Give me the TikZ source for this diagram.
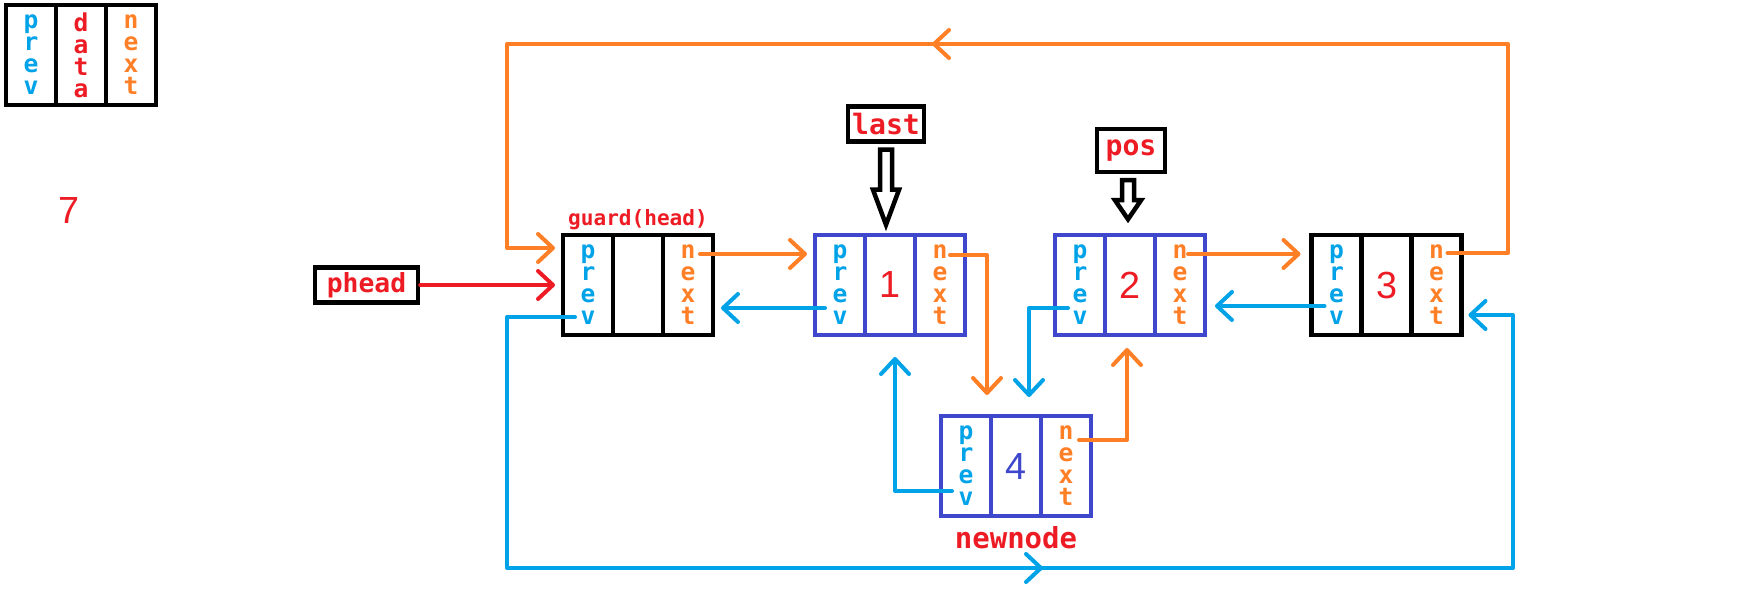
\documentclass[tikz,border=0pt]{standalone}
\usepackage{fontspec}
\usepackage{tikz}
\usetikzlibrary{arrows.meta, calc, chains, positioning}

\newfontfamily\cellfont{DejaVu Sans Mono}
\newfontfamily\digitfont{Liberation Sans}

\definecolor{pblue}{HTML}{00A2E8}
\definecolor{norange}{HTML}{FF7F27}
\definecolor{dred}{HTML}{ED1C24}
\definecolor{nblue}{HTML}{3F48CC}

\begin{document}
\begin{tikzpicture}[x=0.02cm, y=-0.02cm, node distance=0pt,
	start chain=key going right, start chain=g going right,
	start chain=c1 going right, start chain=c2 going right,
	start chain=c3 going right, start chain=c4 going right,
	cell/.style={draw, line width=0.09cm, minimum width=1cm, minimum height=2cm, inner sep=0pt, outer sep=0pt},
	blue cell/.style={cell, draw=nblue},
	prevcol/.style={text=pblue, align=center, font=\cellfont\bfseries\fontsize{14}{12.5}\selectfont},
	nextcol/.style={text=norange, align=center, font=\cellfont\bfseries\fontsize{14}{12.5}\selectfont},
	datacol/.style={text=dred, font=\digitfont\fontsize{21.5}{24}\selectfont},
	ptr/.style={draw, line width=0.09cm, text=dred, inner sep=0pt, font=\cellfont\bfseries\fontsize{15}{15}\selectfont},
	hollow/.style={draw, line width=0.09cm, fill=white, line join=miter},
	con/.style={line width=0.08cm, line cap=round, line join=round, -{Straight Barb[length=0.3cm, width=0.56cm, round]}},
	oarr/.style={con, draw=norange},
	barr/.style={con, draw=pblue},
	rarr/.style={con, draw=dred}]
	\useasboundingbox (0,0) rectangle (1744,605);

	% key
	\node[cell, prevcol, on chain=key] (lp) at (31,55) {p\\r\\e\\v};
	\node[cell, prevcol, text=dred, on chain=key] (ld) {d\\a\\t\\a};
	\node[cell, nextcol, on chain=key] (ln) {n\\e\\x\\t};
	\node[datacol] (seven) at (69,211) {7};

	% guard
	\node[cell, prevcol, on chain=g] (gp) at (588,285) {p\\r\\e\\v};
	\node[cell, on chain=g] (gd) {};
	\node[cell, nextcol, on chain=g] (gn) {n\\e\\x\\t};
	\node[above=0.1cm of gd, inner sep=0pt, text=dred, font=\cellfont\bfseries\fontsize{12}{12}\selectfont] (glabel) {guard(head)};

	\node[blue cell, prevcol, on chain=c1] (p1) at (840,285) {p\\r\\e\\v};
	\node[blue cell, datacol, on chain=c1] (d1) {1};
	\node[blue cell, nextcol, on chain=c1] (n1) {n\\e\\x\\t};

	\node[blue cell, prevcol, on chain=c2] (p2) at (1080,285) {p\\r\\e\\v};
	\node[blue cell, datacol, on chain=c2] (d2) {2};
	\node[blue cell, nextcol, on chain=c2] (n2) {n\\e\\x\\t};

	\node[cell, prevcol, on chain=c3] (p3) at (1336.5,285) {p\\r\\e\\v};
	\node[cell, datacol, on chain=c3] (d3) {3};
	\node[cell, nextcol, on chain=c3] (n3) {n\\e\\x\\t};

	\node[blue cell, prevcol, on chain=c4] (p4) at (966,466) {p\\r\\e\\v};
	\node[blue cell, datacol, text=nblue, on chain=c4] (d4) {4};
	\node[blue cell, nextcol, on chain=c4] (n4) {n\\e\\x\\t};
	\node[below=0.2cm of d4, inner sep=0pt, text=dred, font=\cellfont\bfseries\fontsize{16.5}{16.5}\selectfont] (newlabel) {newnode};

	% pointers
	\node[ptr, minimum width=2.06cm, minimum height=0.7cm] (phead) at (366.5,285) {phead};
	\node[ptr, minimum width=1.52cm, minimum height=0.7cm, font=\cellfont\bfseries\fontsize{16}{16}\selectfont] (last) at (886,124) {last};
	\node[ptr, minimum width=1.36cm, minimum height=0.86cm, font=\cellfont\bfseries\fontsize{16}{16}\selectfont] (pos) at (1131,150.5) {pos};
	\draw[hollow] (last.south) ++(-6,6) -- ++(0,40) -- ++(-7,0) -- ++(13,35) -- ++(13,-35) -- ++(-7,0) -- ++(0,-40) -- cycle;
	\draw[hollow] (pos.south) ++(-9,6) -- ++(0,20) -- ++(-7,0) -- ++(13,19) -- ++(13,-19) -- ++(-7,0) -- ++(0,-20) -- cycle;

	\coordinate (topR) at (1508,44);
	\coordinate (topM) at (932,44);
	\coordinate (topL) at (507,44);
	\coordinate (botL) at (507,568);
	\coordinate (botM) at (1043,568);
	\coordinate (botR) at (1513,568);

	\draw[rarr] (phead.east) -- ($(gp.west)+(-8,0)$);
	\draw[oarr] ($(n3)+(11,-32)$) -| (topR) -- (topM);
	\draw[oarr] (topM) -- (topL) |- ($(gp.west)+(-8,-37)$);
	\draw[barr] ($(gp)+(-13,32)$) -| (botL) -- (botM);
	\draw[barr] (botM) -- (botR) |- ($(n3.east)+(7,30)$);
	\draw[oarr] ($(gn)+(12,-31)$) -- ($(p1.west)+(-8,-31)$);
	\draw[barr] ($(p1)+(-15,23)$) -- ($(gn.east)+(8,23)$);
	\draw[oarr] ($(n1)+(10,-30)$) -| ($(p4.north)+(21,-21)$);
	\draw[barr] ($(p4)+(-14,25)$) -| ($(d1.south)+(5,22)$);
	\draw[barr] ($(p2)+(-12,23)$) -| ($(d4.north)+(13,-19)$);
	\draw[oarr] ($(n4)+(13,-26)$) -| ($(d2.south)+(-3,13)$);
	\draw[oarr] ($(n2)+(8,-31)$) -- ($(p3.west)+(-11,-31)$);
	\draw[barr] ($(p3)+(-12,21)$) -- ($(n2.east)+(10,21)$);
\end{tikzpicture}
\end{document}
